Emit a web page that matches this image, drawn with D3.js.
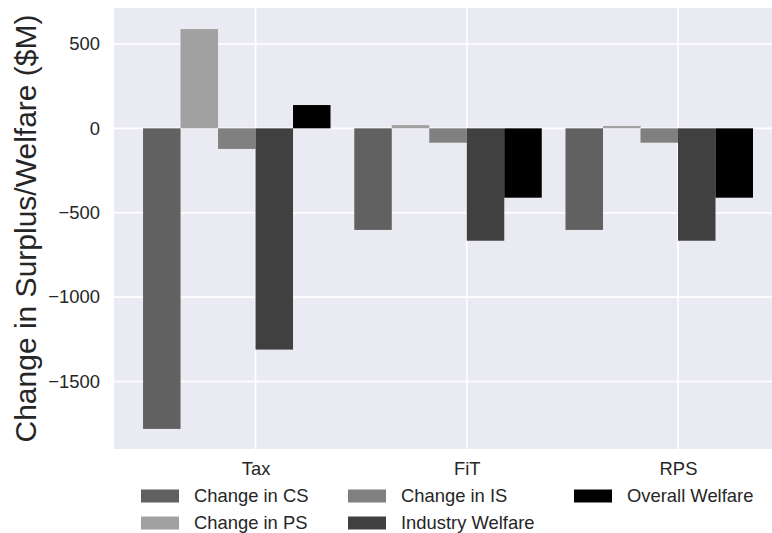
<!DOCTYPE html>
<meta charset="utf-8">
<style>
  body { margin: 0; background: #fff; }
  text { font-family: "Liberation Sans", Arial, sans-serif; fill: #262626; }
</style>
<div id="chart"></div>
<script src="https://cdn.jsdelivr.net/npm/d3@7"></script>
<script>

// categories and series
var policies = ["Tax", "FiT", "RPS"]
var seriesNames = ["Change in CS", "Change in PS", "Change in IS", "Industry Welfare", "Overall Welfare"]
var seriesColors = ["#616161", "#a1a1a1", "#808080", "#404040", "#000000"]

// values per series, one per policy ($M)
var changeCS = [-1781, -602, -602]
var changePS = [588, 19, 14]
var changeIS = [-122, -85, -85]
var industryWelfare = [-1311, -666, -666]
var overallWelfare = [138, -411, -411]

var yTicks = [500, 0, -500, -1000, -1500]

var seriesValues = [changeCS, changePS, changeIS, industryWelfare, overallWelfare]

// dimensions
var W = 772, H = 533
var margin = {top: 8, right: 0, bottom: 84, left: 114}
var width = W - margin.left - margin.right,
    height = H - margin.top - margin.bottom

var svg = d3.select("#chart")
  .append("svg")
    .attr("width", W)
    .attr("height", H)

var g = svg.append("g")
    .attr("transform", "translate(" + margin.left + "," + margin.top + ")")

// x is the policy index, bars are offset from it
var x = d3.scaleLinear()
  .domain([-0.67, 2.445])
  .range([0, width])

var barW = 0.1775

var y = d3.scaleLinear()
  .domain([-1900, 713])
  .range([height, 0])

// background
g.append("rect")
  .attr("width", width)
  .attr("height", height)
  .attr("fill", "#eaeaf2")

// grid
g.append("g")
  .selectAll("line.h")
  .data(yTicks)
  .enter()
  .append("line")
    .attr("x1", 0)
    .attr("x2", width)
    .attr("y1", function(d) { return y(d) })
    .attr("y2", function(d) { return y(d) })
    .attr("stroke", "#fff")
    .attr("stroke-width", 1.6)

g.append("g")
  .selectAll("line.v")
  .data(policies)
  .enter()
  .append("line")
    .attr("x1", function(d, i) { return x(i) })
    .attr("x2", function(d, i) { return x(i) })
    .attr("y1", 0)
    .attr("y2", height)
    .attr("stroke", "#fff")
    .attr("stroke-width", 1.6)

// bars
seriesValues.forEach(function(vals, j) {
  g.append("g")
    .selectAll("rect")
    .data(vals)
    .enter()
    .append("rect")
      .attr("x", function(d, i) { return x(i + (j - 3) * barW) })
      .attr("width", x(barW) - x(0))
      .attr("y", function(d) { return y(Math.max(0, d)) })
      .attr("height", function(d) { return Math.abs(y(d) - y(0)) })
      .attr("fill", seriesColors[j])
})

// y axis labels
var yAxis = g.append("g")
  .call(d3.axisLeft(y).tickValues(yTicks).tickFormat(d3.format("d")).tickSize(0).tickPadding(14))
yAxis.select(".domain").remove()
yAxis.selectAll("text")
  .style("font-size", "18.4px")
  .style("font-family", "Liberation Sans, Arial, sans-serif")
  .attr("fill", "#262626")

// x axis labels
var xAxis = g.append("g")
  .attr("transform", "translate(0," + height + ")")
  .call(d3.axisBottom(x).tickValues([0, 1, 2]).tickFormat(function(d) { return policies[d] }).tickSize(0).tickPadding(13))
xAxis.select(".domain").remove()
xAxis.selectAll("text")
  .style("font-size", "18.4px")
  .style("font-family", "Liberation Sans, Arial, sans-serif")
  .attr("fill", "#262626")

// y title
svg.append("text")
  .attr("transform", "translate(36," + (margin.top + height / 2) + ") rotate(-90)")
  .attr("text-anchor", "middle")
  .style("font-size", "30px")
  .text("Change in Surplus/Welfare ($M)")

// legend, three columns filled top to bottom
var colX = [141, 348, 574]
var rowY = [496, 523]
var legend = svg.append("g")
seriesNames.forEach(function(name, j) {
  var cx = colX[Math.floor(j / 2)], cy = rowY[j % 2]
  legend.append("rect")
    .attr("x", cx)
    .attr("y", cy - 6.5)
    .attr("width", 38)
    .attr("height", 13)
    .attr("fill", seriesColors[j])
  legend.append("text")
    .attr("x", cx + 53)
    .attr("y", cy)
    .attr("dy", "0.35em")
    .style("font-size", "18.4px")
    .text(name)
})

</script>
